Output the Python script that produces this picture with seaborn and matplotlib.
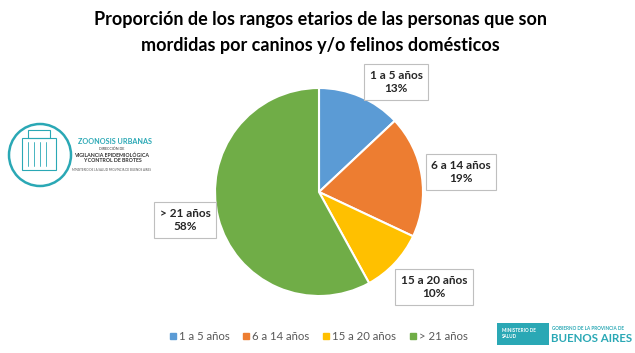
import matplotlib
matplotlib.use('Agg')
import matplotlib.pyplot as plt
import seaborn as sns
from matplotlib.patches import Circle, Rectangle

# datos
rangos = ['1 a 5 años', '6 a 14 años', '15 a 20 años', '> 21 años']
porcentajes = [13, 19, 10, 58]
colores = ['#5B9BD5', '#ED7D31', '#FFC000', '#70AD47']

sns.set_theme(style='white')
plt.rcParams['font.family'] = ['Lato', 'DejaVu Sans']

W, H = 635, 353
fig = plt.figure(figsize=(W / 100, H / 100), dpi=100)
fig.patch.set_facecolor('white')


def fx(x):
    return x / W


def fy(y):
    return 1 - y / H


# título
fig.text(fx(320), fy(20), 'Proporción de los rangos etarios de las personas que son',
         ha='center', va='center', fontsize=13, fontweight='bold', color='black')
fig.text(fx(320), fy(46), 'mordidas por caninos y/o felinos domésticos',
         ha='center', va='center', fontsize=13, fontweight='bold', color='black')

# torta
cx, cy, r = 319, 192, 104
ax = fig.add_axes([fx(cx - r), fy(cy + r), 2 * r / W, 2 * r / H])
ax.pie(porcentajes, colors=colores, startangle=90, counterclock=False,
       wedgeprops=dict(edgecolor='white', linewidth=1.5))
ax.set_xlim(-1, 1)
ax.set_ylim(-1, 1)
ax.axis('off')

# etiquetas
pos_etiquetas = [(396, 82), (461, 172), (434, 287), (185, 220)]
for nombre, valor, (x, y) in zip(rangos, porcentajes, pos_etiquetas):
    fig.text(fx(x), fy(y), f'{nombre}\n{valor}%', ha='center', va='center',
             fontsize=8.5, fontweight='bold', color='#262626', linespacing=1.3,
             bbox=dict(boxstyle='square,pad=0.45', facecolor='white',
                       edgecolor='#BFBFBF', linewidth=0.8))

# leyenda
handles = [plt.Line2D([], [], marker='s', linestyle='', markersize=4.5,
                      markerfacecolor=c, markeredgecolor=c) for c in colores]
fig.legend(handles, rangos, loc='center', bbox_to_anchor=(fx(318), fy(336)),
           ncol=4, frameon=False, fontsize=8.2, handletextpad=0.1, handlelength=0.8,
           columnspacing=1.1, labelcolor='#595959')

# logo zoonosis
teal = '#2AA8B5'
lax = fig.add_axes([0, 0, 1, 1], facecolor='none')
lax.set_xlim(0, W)
lax.set_ylim(H, 0)
lax.axis('off')
lax.add_patch(Circle((40, 155), 31, fill=False, edgecolor=teal, linewidth=1.8))
lax.add_patch(Rectangle((22, 138), 34, 32, fill=False, edgecolor=teal, linewidth=0.8))
lax.add_patch(Rectangle((28, 130), 22, 8, fill=False, edgecolor=teal, linewidth=0.8))
for xx in (28, 34, 40, 46):
    lax.plot([xx, xx], [142, 166], color=teal, linewidth=0.6)
lax.text(78, 141, 'ZOONOSIS URBANAS', fontsize=5.2, fontweight='bold', color=teal, va='center')
lax.text(112, 149, 'DIRECCIÓN DE', fontsize=2.6, color='#333333', va='center', ha='center')
lax.text(112, 155, 'VIGILANCIA EPIDEMIOLÓGICA', fontsize=3.8, fontweight='bold', color='#333333',
         va='center', ha='center')
lax.text(112, 161, 'Y CONTROL DE BROTES', fontsize=3.8, fontweight='bold', color='#333333',
         va='center', ha='center')
lax.text(112, 170, 'MINISTERIO DE LA SALUD PROVINCIA DE BUENOS AIRES', fontsize=2.2,
         color='#555555', va='center', ha='center')

# logo Buenos Aires
lax.add_patch(Rectangle((497, 323), 52, 22, facecolor=teal, edgecolor='none'))
lax.text(502, 330, 'MINISTERIO DE', fontsize=3.3, fontweight='bold', color='white', va='center')
lax.text(502, 337, 'SALUD', fontsize=3.3, fontweight='bold', color='white', va='center')
lax.text(552, 328, 'GOBIERNO DE LA PROVINCIA DE', fontsize=3.3, fontweight='bold', color=teal,
         va='center')
lax.text(551, 339, 'BUENOS AIRES', fontsize=8.3, fontweight='bold', color=teal, va='center')

fig.savefig('out.png', dpi=100)
